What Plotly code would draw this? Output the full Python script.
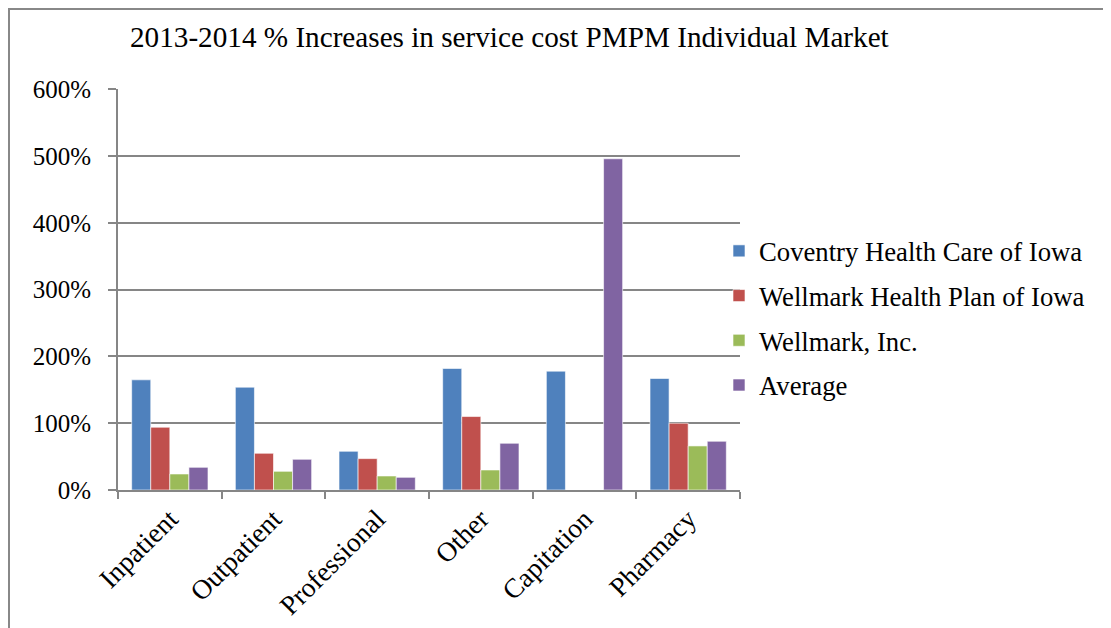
import plotly.graph_objects as go

categories = ["Inpatient", "Outpatient", "Professional", "Other", "Capitation", "Pharmacy"]
series_names = ["Coventry Health Care of Iowa", "Wellmark Health Plan of Iowa", "Wellmark, Inc.", "Average"]
coventry = [1.65, 1.54, 0.58, 1.82, 1.78, 1.67]
wellmark_hp = [0.94, 0.55, 0.47, 1.10, None, 1.00]
wellmark_inc = [0.24, 0.28, 0.21, 0.30, None, 0.66]
average = [0.34, 0.46, 0.19, 0.70, 4.96, 0.73]
colors = ["#4F81BD", "#C0504D", "#9BBB59", "#8064A2"]
y_ticks = [0, 1, 2, 3, 4, 5, 6]
y_tick_labels = ["0%", "100%", "200%", "300%", "400%", "500%", "600%"]

FONT = "Liberation Serif, Times New Roman, serif"

fig = go.Figure()
for name, vals, col in zip(series_names, [coventry, wellmark_hp, wellmark_inc, average], colors):
    fig.add_trace(go.Bar(
        x=categories, y=vals, name=name, legendgroup=name,
        marker=dict(color=col, line=dict(color="rgba(255,255,255,0.6)", width=1)),
    ))

OFF = 8  # page body margin
W, H = 1111 - OFF, 628 - OFF
L, T = 118 - OFF, 89 - OFF
R = W - (740 - OFF)
B = H - (490 - OFF)
pw, ph = W - L - R, H - T - B

fig.update_layout(
    width=W, height=H,
    margin=dict(l=L, r=R, t=T, b=B, pad=0, autoexpand=False),
    paper_bgcolor="white", plot_bgcolor="white",
    barmode="group", bargap=0.264, bargroupgap=0,
    font=dict(family=FONT, size=25, color="#000000"),
    title=dict(text="2013-2014 % Increases in service cost PMPM Individual Market",
               x=(130 - OFF) / W, xanchor="left", xref="container",
               y=1 - (37 - OFF) / H, yanchor="middle", yref="container",
               font=dict(family=FONT, size=29.2, color="#000000")),
    legend=dict(x=(719 - L - OFF) / pw, xanchor="left", y=(H - B - (318 - OFF)) / ph, yanchor="middle",
                font=dict(family=FONT, size=26.7), tracegroupgap=7,
                bgcolor="rgba(0,0,0,0)", itemwidth=30),
    showlegend=True,
    xaxis=dict(type="category", showline=True, linecolor="#868686", linewidth=2,
               ticks="outside", tickson="boundaries", ticklen=7, tickwidth=2, tickcolor="#868686",
               tickangle=-45, tickfont=dict(family=FONT, size=27.4), showgrid=False,
               automargin=False),
    yaxis=dict(range=[0, 6.005], tickvals=y_ticks, ticktext=y_tick_labels,
               showline=True, linecolor="#868686", linewidth=2,
               ticks="outside", ticklen=8, tickwidth=2, tickcolor="#868686",
               showgrid=True, gridcolor="#868686", gridwidth=2, zeroline=False,
               tickfont=dict(family=FONT, size=25), ticklabelstandoff=12,
               automargin=False),
)

# outer chart border (left & top visible, rest cropped)
fig.add_shape(type="rect", xref="paper", yref="paper",
              x0=(9 - OFF - L) / pw, x1=(W + 20 - L) / pw,
              y0=(H - B - (H + 20)) / ph, y1=(H - B - 1) / ph,
              line=dict(color="#888888", width=2), fillcolor="rgba(0,0,0,0)", layer="below")

fig.write_html("out.html")
